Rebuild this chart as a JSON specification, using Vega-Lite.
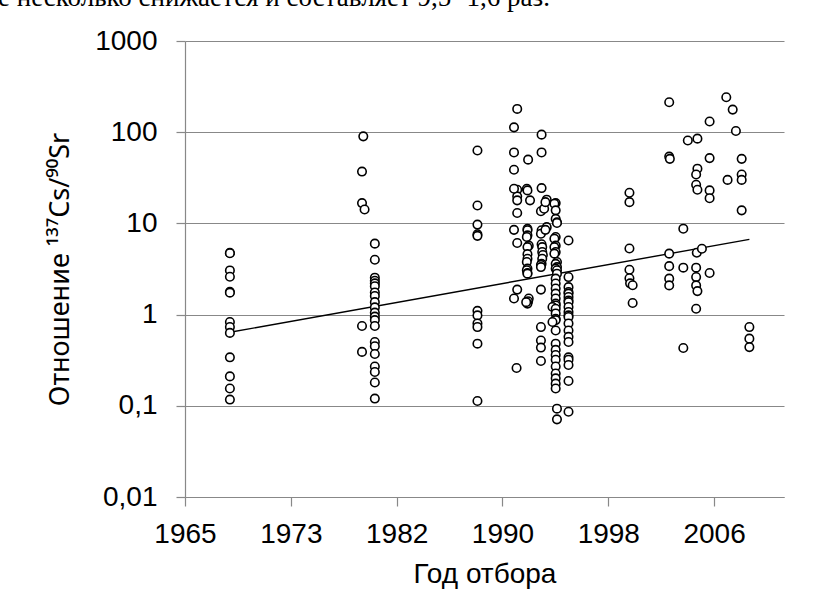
{
  "$schema": "https://vega.github.io/schema/vega-lite/v6.json",
  "width": 599,
  "height": 456,
  "autosize": {"type": "none"},
  "padding": {"left": 185, "top": 41, "right": 50, "bottom": 116},
  "background": "white",
  "config": {
    "view": {"stroke": null},
    "font": "Liberation Sans",
    "axis": {"labelFont": "Liberation Sans", "titleFont": "Liberation Sans", "labelColor": "black", "titleColor": "black", "labelFontSize": 28, "titleFontSize": 28, "titleFontWeight": "normal", "domainColor": "#888888", "tickColor": "#888888", "gridColor": "#888888", "domainWidth": 1.2, "tickWidth": 1.2, "gridWidth": 1.2, "tickSize": 9}
  },
  "title": {"text": "е несколько снижается и составляет 9,5−1,6 раз.", "font": "Liberation Serif", "fontSize": 27, "fontWeight": "normal", "color": "black", "anchor": "start", "frame": "group", "baseline": "alphabetic", "offset": 17, "dy": 23, "dx": -187},
  "datasets": {
    "pts": [
      {"year": 1968.5, "ratio": 4.75}, {"year": 1968.5, "ratio": 4.7}, {"year": 1968.5, "ratio": 3.05}, {"year": 1968.5, "ratio": 2.6}, {"year": 1968.5, "ratio": 1.78}, {"year": 1968.5, "ratio": 1.74}, {"year": 1968.5, "ratio": 0.83}, {"year": 1968.5, "ratio": 0.73}, {"year": 1968.5, "ratio": 0.63}, {"year": 1968.5, "ratio": 0.34}, {"year": 1968.5, "ratio": 0.21}, {"year": 1968.5, "ratio": 0.155}, {"year": 1968.5, "ratio": 0.117},
      {"year": 1978.9, "ratio": 90}, {"year": 1978.8, "ratio": 37}, {"year": 1978.8, "ratio": 16.7}, {"year": 1979.0, "ratio": 14.2}, {"year": 1978.8, "ratio": 0.75}, {"year": 1978.8, "ratio": 0.39},
      {"year": 1979.8, "ratio": 6.0}, {"year": 1979.8, "ratio": 4.0}, {"year": 1979.8, "ratio": 2.54}, {"year": 1979.8, "ratio": 2.35}, {"year": 1979.8, "ratio": 2.2}, {"year": 1979.8, "ratio": 2.05}, {"year": 1979.8, "ratio": 1.75}, {"year": 1979.8, "ratio": 1.6}, {"year": 1979.8, "ratio": 1.37}, {"year": 1979.8, "ratio": 1.2}, {"year": 1979.8, "ratio": 1.05}, {"year": 1979.8, "ratio": 0.95}, {"year": 1979.8, "ratio": 0.87}, {"year": 1979.8, "ratio": 0.75}, {"year": 1979.8, "ratio": 0.5}, {"year": 1979.8, "ratio": 0.45}, {"year": 1979.8, "ratio": 0.37}, {"year": 1979.8, "ratio": 0.27}, {"year": 1979.8, "ratio": 0.235}, {"year": 1979.8, "ratio": 0.18}, {"year": 1979.8, "ratio": 0.12},
      {"year": 1987.8, "ratio": 63}, {"year": 1987.8, "ratio": 15.7}, {"year": 1987.8, "ratio": 9.7}, {"year": 1987.8, "ratio": 7.6}, {"year": 1987.8, "ratio": 7.3}, {"year": 1987.8, "ratio": 1.1}, {"year": 1987.8, "ratio": 0.98}, {"year": 1987.8, "ratio": 0.8}, {"year": 1987.8, "ratio": 0.73}, {"year": 1987.8, "ratio": 0.48}, {"year": 1987.8, "ratio": 0.113},
      {"year": 1990.9, "ratio": 180}, {"year": 1990.9, "ratio": 23.4}, {"year": 1990.9, "ratio": 19.8}, {"year": 1990.9, "ratio": 17.9}, {"year": 1990.9, "ratio": 13.0}, {"year": 1990.9, "ratio": 6.1}, {"year": 1990.9, "ratio": 1.88}, {"year": 1990.85, "ratio": 0.26},
      {"year": 1990.65, "ratio": 113}, {"year": 1990.65, "ratio": 60}, {"year": 1990.65, "ratio": 38.7}, {"year": 1990.65, "ratio": 24}, {"year": 1990.65, "ratio": 8.5}, {"year": 1990.65, "ratio": 1.5},
      {"year": 1991.75, "ratio": 50}, {"year": 1991.65, "ratio": 24}, {"year": 1991.7, "ratio": 23}, {"year": 1991.9, "ratio": 17.9}, {"year": 1991.7, "ratio": 8.7}, {"year": 1991.7, "ratio": 8.4}, {"year": 1991.7, "ratio": 7.4}, {"year": 1991.65, "ratio": 7.1}, {"year": 1991.8, "ratio": 5.7}, {"year": 1991.7, "ratio": 5.5}, {"year": 1991.7, "ratio": 4.6}, {"year": 1991.7, "ratio": 4.1}, {"year": 1991.65, "ratio": 3.77}, {"year": 1991.7, "ratio": 3.19}, {"year": 1991.65, "ratio": 3.06}, {"year": 1991.7, "ratio": 2.86}, {"year": 1991.7, "ratio": 2.81}, {"year": 1991.8, "ratio": 1.5}, {"year": 1991.75, "ratio": 1.4}, {"year": 1991.7, "ratio": 1.32}, {"year": 1991.6, "ratio": 1.37},
      {"year": 1992.8, "ratio": 94}, {"year": 1992.8, "ratio": 60}, {"year": 1992.8, "ratio": 24.4}, {"year": 1992.75, "ratio": 13.6}, {"year": 1993.0, "ratio": 14.5}, {"year": 1992.8, "ratio": 8.4}, {"year": 1992.75, "ratio": 7.7}, {"year": 1992.8, "ratio": 5.9}, {"year": 1992.85, "ratio": 5.5}, {"year": 1992.85, "ratio": 4.85}, {"year": 1992.9, "ratio": 4.5}, {"year": 1992.85, "ratio": 4.1}, {"year": 1992.8, "ratio": 3.6}, {"year": 1992.75, "ratio": 3.5}, {"year": 1992.75, "ratio": 3.32}, {"year": 1992.75, "ratio": 1.88}, {"year": 1992.75, "ratio": 0.73}, {"year": 1992.75, "ratio": 0.52}, {"year": 1992.75, "ratio": 0.435}, {"year": 1992.75, "ratio": 0.31},
      {"year": 1993.2, "ratio": 18.2}, {"year": 1993.1, "ratio": 17.1}, {"year": 1993.2, "ratio": 9.1}, {"year": 1993.1, "ratio": 8.5},
      {"year": 1993.9, "ratio": 16.7}, {"year": 1993.8, "ratio": 16.4}, {"year": 1993.9, "ratio": 13.9}, {"year": 1993.9, "ratio": 11.2}, {"year": 1994.0, "ratio": 10.3}, {"year": 1994.0, "ratio": 10.1}, {"year": 1993.9, "ratio": 7.1}, {"year": 1993.8, "ratio": 6.8}, {"year": 1993.9, "ratio": 5.7}, {"year": 1993.8, "ratio": 5.5}, {"year": 1993.9, "ratio": 4.85}, {"year": 1993.8, "ratio": 4.66}, {"year": 1994.0, "ratio": 3.77}, {"year": 1993.9, "ratio": 3.6}, {"year": 1994.0, "ratio": 3.32}, {"year": 1993.9, "ratio": 3.19}, {"year": 1994.0, "ratio": 3.06}, {"year": 1994.0, "ratio": 2.81}, {"year": 1993.9, "ratio": 2.48}, {"year": 1993.9, "ratio": 2.19}, {"year": 1993.9, "ratio": 1.93}, {"year": 1993.9, "ratio": 1.7}, {"year": 1993.9, "ratio": 1.5}, {"year": 1993.9, "ratio": 1.32}, {"year": 1993.9, "ratio": 1.26}, {"year": 1993.65, "ratio": 1.21}, {"year": 1993.9, "ratio": 1.16}, {"year": 1993.9, "ratio": 1.03}, {"year": 1993.9, "ratio": 0.9}, {"year": 1993.9, "ratio": 0.87}, {"year": 1993.65, "ratio": 0.83}, {"year": 1993.9, "ratio": 0.67}, {"year": 1993.9, "ratio": 0.48}, {"year": 1993.9, "ratio": 0.41}, {"year": 1993.9, "ratio": 0.36}, {"year": 1993.9, "ratio": 0.32}, {"year": 1993.9, "ratio": 0.27}, {"year": 1993.9, "ratio": 0.226}, {"year": 1993.9, "ratio": 0.2}, {"year": 1993.9, "ratio": 0.175}, {"year": 1993.9, "ratio": 0.155}, {"year": 1994.0, "ratio": 0.093}, {"year": 1994.0, "ratio": 0.071},
      {"year": 1994.9, "ratio": 6.5}, {"year": 1994.9, "ratio": 2.58}, {"year": 1994.9, "ratio": 2.0}, {"year": 1994.9, "ratio": 1.77}, {"year": 1994.9, "ratio": 1.7}, {"year": 1994.9, "ratio": 1.56}, {"year": 1994.9, "ratio": 1.43}, {"year": 1994.9, "ratio": 1.37}, {"year": 1994.9, "ratio": 1.21}, {"year": 1994.9, "ratio": 1.07}, {"year": 1994.9, "ratio": 0.98}, {"year": 1994.9, "ratio": 0.94}, {"year": 1994.9, "ratio": 0.8}, {"year": 1994.9, "ratio": 0.67}, {"year": 1994.9, "ratio": 0.57}, {"year": 1994.9, "ratio": 0.5}, {"year": 1994.9, "ratio": 0.34}, {"year": 1994.9, "ratio": 0.32}, {"year": 1994.9, "ratio": 0.28}, {"year": 1994.9, "ratio": 0.187}, {"year": 1994.9, "ratio": 0.086},
      {"year": 1999.65, "ratio": 21.7}, {"year": 1999.65, "ratio": 17.1}, {"year": 1999.65, "ratio": 5.3}, {"year": 1999.65, "ratio": 3.1}, {"year": 1999.65, "ratio": 2.5}, {"year": 1999.7, "ratio": 2.2}, {"year": 1999.9, "ratio": 2.1}, {"year": 1999.9, "ratio": 1.34},
      {"year": 2002.75, "ratio": 213}, {"year": 2002.75, "ratio": 54}, {"year": 2002.8, "ratio": 51}, {"year": 2002.75, "ratio": 4.66}, {"year": 2002.75, "ratio": 3.4}, {"year": 2002.75, "ratio": 2.48}, {"year": 2002.75, "ratio": 2.09},
      {"year": 2003.85, "ratio": 8.75}, {"year": 2003.85, "ratio": 3.27}, {"year": 2003.85, "ratio": 0.43},
      {"year": 2004.2, "ratio": 81},
      {"year": 2004.95, "ratio": 85}, {"year": 2004.95, "ratio": 39.8}, {"year": 2004.85, "ratio": 34.4}, {"year": 2004.85, "ratio": 26.5}, {"year": 2004.95, "ratio": 23.4}, {"year": 2004.9, "ratio": 4.77}, {"year": 2004.85, "ratio": 3.27}, {"year": 2004.85, "ratio": 2.58}, {"year": 2004.85, "ratio": 2.09}, {"year": 2004.95, "ratio": 1.81}, {"year": 2004.85, "ratio": 1.16},
      {"year": 2005.3, "ratio": 5.28},
      {"year": 2005.9, "ratio": 131}, {"year": 2005.9, "ratio": 52}, {"year": 2005.9, "ratio": 23}, {"year": 2005.9, "ratio": 18.9}, {"year": 2005.9, "ratio": 2.86},
      {"year": 2007.2, "ratio": 242}, {"year": 2007.3, "ratio": 30}, {"year": 2007.7, "ratio": 177}, {"year": 2007.95, "ratio": 103},
      {"year": 2008.4, "ratio": 51}, {"year": 2008.4, "ratio": 34.4}, {"year": 2008.4, "ratio": 30}, {"year": 2008.4, "ratio": 13.9},
      {"year": 2009.0, "ratio": 0.73}, {"year": 2009.0, "ratio": 0.545}, {"year": 2009.0, "ratio": 0.44}
    ],
    "trend": [
      {"year": 1968.5, "ratio": 0.64},
      {"year": 2009.0, "ratio": 6.68}
    ]
  },
  "encoding": {
    "x": {
      "field": "year", "type": "quantitative",
      "scale": {"domain": [1965, 2011.7], "nice": false, "zero": false},
      "axis": {"title": "Год отбора", "values": [1965, 1973.25, 1981.5, 1989.75, 1998, 2006.25], "format": "d", "grid": false, "labelPadding": 14, "labelFlush": false, "titleY": 85, "titleBaseline": "alphabetic"}
    },
    "y": {
      "field": "ratio", "type": "quantitative",
      "scale": {"type": "log", "domain": [0.01, 1000], "nice": false},
      "axis": {"title": "Отношение ¹³⁷Cs/⁹⁰Sr", "titleFont": "Noto Sans", "titleFontSize": 27, "values": [0.01, 0.1, 1, 10, 100, 1000], "labelExpr": "datum.value >= 1 ? format(datum.value, 'd') : replace(format(datum.value, '~g'), '.', ',')", "grid": true, "labelPadding": 19, "titleX": -125, "titleY": 228, "titleAlign": "center", "titleBaseline": "middle", "titleAngle": -90}
    }
  },
  "layer": [
    {
      "data": {"name": "trend"},
      "mark": {"type": "line", "color": "black", "strokeWidth": 1.4}
    },
    {
      "data": {"name": "pts"},
      "mark": {"type": "point", "shape": "circle", "filled": false, "fill": "white", "fillOpacity": 1, "stroke": "black", "strokeWidth": 1.6, "opacity": 1, "size": 72}
    }
  ]
}
